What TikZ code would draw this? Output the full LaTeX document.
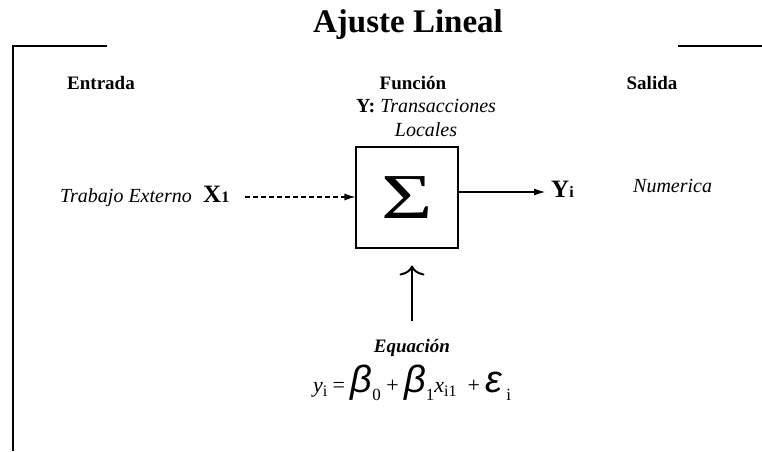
\documentclass[tikz,border=0pt]{standalone}
\usepackage{fontspec}
\setmainfont{Liberation Serif}
\newfontfamily\symfont{Liberation Sans}
\usetikzlibrary{arrows.meta}
\newcommand{\fs}[1]{\fontsize{#1}{#1}\selectfont}
\begin{document}
\begin{tikzpicture}[x=1pt,y=-1pt,
  frame/.style={line width=1.1pt},
  head/.style={font=\bfseries\fs{19}, anchor=base, inner sep=0pt},
  itxt/.style={font=\itshape\fs{20}, anchor=base, inner sep=0pt},
  flow/.style={line width=1.1pt, -{Latex[length=11pt,width=7pt]}}]
\useasboundingbox (0,0) rectangle (762,451);
\node[font=\bfseries\fs{33}, anchor=base, inner sep=0pt] (title) at (408,32) {Ajuste Lineal};
\coordinate (fl1) at (13,451);
\coordinate (fl2) at (13,46);
\coordinate (fl3) at (107,46);
\coordinate (fr1) at (678,46);
\coordinate (fr2) at (762,46);
\draw[frame] (fl1) -- (fl2) -- (fl3);
\draw[frame] (fr1) -- (fr2);
\node[head] (entrada) at (101,89) {Entrada};
\node[head] (funcion) at (413,89) {Función};
\node[head] (salida) at (652,89) {Salida};
\node[font=\fs{20}, anchor=base, inner sep=0pt] (fdesc1) at (426,112) {\textbf{Y:} \textit{Transacciones}};
\node[itxt] (fdesc2) at (426,136) {Locales};
\node[draw, line width=1.1pt, minimum width=102pt, minimum height=101pt, inner sep=0pt] (box) at (407,197.5) {};
\node[inner sep=0pt, font=\fs{64}] (sigma) at (box.center) {\scalebox{1.38}[1]{Σ}};
\node[itxt] (trab) at (126,202) {Trabajo Externo};
\node[anchor=base west, inner sep=0pt] (x1) at (203,202) {\bfseries\fs{25}X\fs{16}1};
\coordinate (dstart) at (245,197);
\draw[flow, dash pattern=on 5pt off 3pt] (dstart) -- (box.west |- dstart);
\node[anchor=base west, inner sep=0pt] (yi) at (551,197) {\bfseries\fs{25}Y\fs{16}i};
\coordinate (sstart) at (box.east |- 0,192);
\draw[flow, shorten >=6pt] (sstart) -- (yi.west |- sstart);
\node[itxt, anchor=base west] (num) at (633,192) {Numerica};
\node[font=\bfseries\itshape\fs{19}, anchor=base, inner sep=0pt] (eqlab) at (412,352) {Equación};
\draw[line width=2pt, shorten <=18pt, shorten >=17pt, -{Computer Modern Rightarrow[length=10pt,width=25pt]}] (eqlab.north) -- (eqlab.north |- box.south);
\node[anchor=base, inner sep=0pt] (eq) at (412,392) {\fs{22}\textit{y}\raisebox{-4pt}{\fs{16}i} = {\symfont\itshape\fs{38}β}\raisebox{-8pt}{\fs{17}0} + {\symfont\itshape\fs{38}β}\raisebox{-8pt}{\fs{17}1}\textit{x}\raisebox{-4pt}{\fs{16}i1} \ + {\symfont\itshape\fs{38}ε}\hspace{4pt}\raisebox{-8pt}{\fs{17}i}};
\end{tikzpicture}
\end{document}
